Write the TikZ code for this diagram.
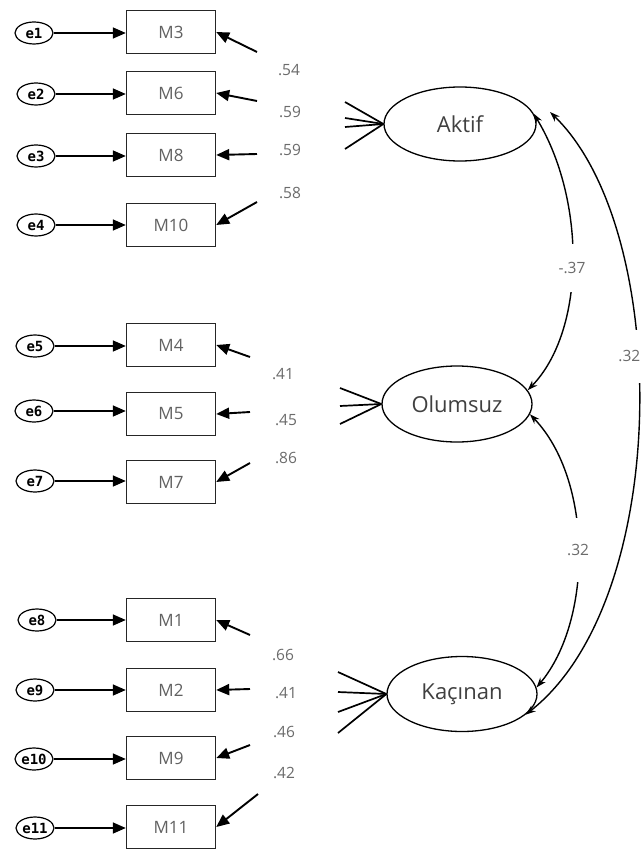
\documentclass[tikz,border=0pt]{standalone}
\usepackage{fontspec}
\setmainfont{Open Sans}
\newfontfamily\monof{DejaVu Sans Mono}
\usetikzlibrary{arrows.meta,shapes.geometric,calc}
\begin{document}
\begin{tikzpicture}[x=1pt,y=-1pt,
  obs/.style={draw=black!85, line width=1.4pt, minimum width=89pt, minimum height=43pt, inner sep=0pt, font=\fontsize{17}{20}\selectfont, text=black!62},
  err/.style={ellipse, draw, line width=1.2pt, minimum width=38pt, minimum height=22pt, inner sep=0pt, font=\monof\bfseries\fontsize{14}{16}\selectfont},
  lat/.style={ellipse, draw, line width=1.3pt, minimum width=152pt, minimum height=74pt, inner sep=0pt, font=\fontsize{22}{26}\selectfont, text=black!75},
  ld/.style={font=\fontsize{15.5}{18}\selectfont, text=black!58},
  earrow/.style={line width=1.6pt, -{Triangle[length=13pt,width=11pt]}},
  larrow/.style={line width=1.9pt, -{Triangle[length=13pt,width=11pt]}},
  lline/.style={line width=1.7pt},
  corr/.style={line width=1.4pt, {Stealth[length=10pt,width=7pt]}-{Stealth[length=10pt,width=7pt]}},
  clab/.style={font=\fontsize{15.5}{18}\selectfont, text=black!58, fill=white, inner xsep=2pt}
]
\useasboundingbox (0,0) rectangle (643,850);
\fill[white] (0,0) rectangle (643,850);

% observed variables
\node[obs] (M3)  at (171,32)  {M3};
\node[obs] (M6)  at (171,93)  {M6};
\node[obs] (M8)  at (171,155) {M8};
\node[obs] (M10) at (171,225) {M10};
\node[obs] (M4)  at (171,345) {M4};
\node[obs] (M5)  at (171,414) {M5};
\node[obs] (M7)  at (171,482) {M7};
\node[obs] (M1)  at (171,620) {M1};
\node[obs] (M2)  at (171,690) {M2};
\node[obs] (M9)  at (171,758) {M9};
\node[obs] (M11) at (171,827) {M11};

% error terms
\node[err] (e1)  at (34,33)  {e1};
\node[err] (e2)  at (36,94)  {e2};
\node[err] (e3)  at (36,156) {e3};
\node[err] (e4)  at (36,225) {e4};
\node[err] (e5)  at (35,346) {e5};
\node[err] (e6)  at (34,411) {e6};
\node[err] (e7)  at (35,481) {e7};
\node[err] (e8)  at (37,620) {e8};
\node[err] (e9)  at (35,690) {e9};
\node[err] (e10) at (34,759) {e10};
\node[err] (e11) at (35,828) {e11};

\foreach \e/\m in {e1/M3,e2/M6,e3/M8,e4/M10,e5/M4,e6/M5,e7/M7,e8/M1,e9/M2,e10/M9,e11/M11}
  \draw[earrow] (\e.east) -- (\e.east -| \m.west);

% latent variables
\node[lat] (Akt) at (460,124) {Aktif};
\node[lat, minimum width=150pt, minimum height=76pt] (Olu) at (457,404) {Olumsuz};
\node[lat, minimum width=150pt, minimum height=75pt] (Kac) at (462,694) {Kaçınan};

% loading segments: free ends
\coordinate (a3) at (257,52);  \coordinate (b3) at (345,102);
\coordinate (a6) at (257,101); \coordinate (b6) at (345,118);
\coordinate (a8) at (257,154); \coordinate (b8) at (345,127);
\coordinate (a10) at (257,202); \coordinate (b10) at (345,149);
\coordinate (a4) at (250,357); \coordinate (b4) at (340,388);
\coordinate (a5) at (250,412); \coordinate (b5) at (340,406);
\coordinate (a7) at (250,463); \coordinate (b7) at (340,424);
\coordinate (a1) at (250,635); \coordinate (b1) at (338,672);
\coordinate (a2) at (250,689); \coordinate (b2) at (338,692);
\coordinate (a9) at (250,745); \coordinate (b9) at (338,712);
\coordinate (a11) at (258,794); \coordinate (b11) at (338,733);

\foreach \n in {3,6,8,10} {
  \draw[larrow] (a\n) -- (M\n.east);
  \draw[lline] (Akt.west) -- (b\n);
}
\foreach \n in {4,5,7} {
  \draw[larrow] (a\n) -- (M\n.east);
  \draw[lline] (Olu.west) -- (b\n);
}
\foreach \n in {1,2,9,11} {
  \draw[larrow] (a\n) -- (M\n.east);
  \draw[lline] (Kac.west) -- (b\n);
}

% loading labels
\node[ld] (l3)  at (289,70)  {.54};
\node[ld] (l6)  at (290,112) {.59};
\node[ld] (l8)  at (290,150) {.59};
\node[ld] (l10) at (290,193) {.58};
\node[ld] (l4)  at (283,374) {.41};
\node[ld] (l5)  at (286,420) {.45};
\node[ld] (l7)  at (286,458) {.86};
\node[ld] (l1)  at (283,655) {.66};
\node[ld] (l2)  at (286,693) {.41};
\node[ld] (l9)  at (284,732) {.46};
\node[ld] (l11) at (284,773) {.42};

% correlations
\coordinate (kA) at (550,112);
\draw[corr] (Akt.8) .. controls (586,200) and (586,330) .. (Olu.11)
  node[clab, pos=0.52, inner ysep=18pt] (c1) {-.37};
\draw[corr] (Olu.-8) .. controls (593,480) and (593,620) .. (Kac.5)
  node[clab, pos=0.5, inner ysep=26pt] (c2) {.32};
\draw[corr] (kA) .. controls (672,230) and (672,600) .. (Kac.-18)
  node[clab, pos=0.42, inner ysep=21pt, xshift=-8pt] (c3) {.32};
\end{tikzpicture}
\end{document}
